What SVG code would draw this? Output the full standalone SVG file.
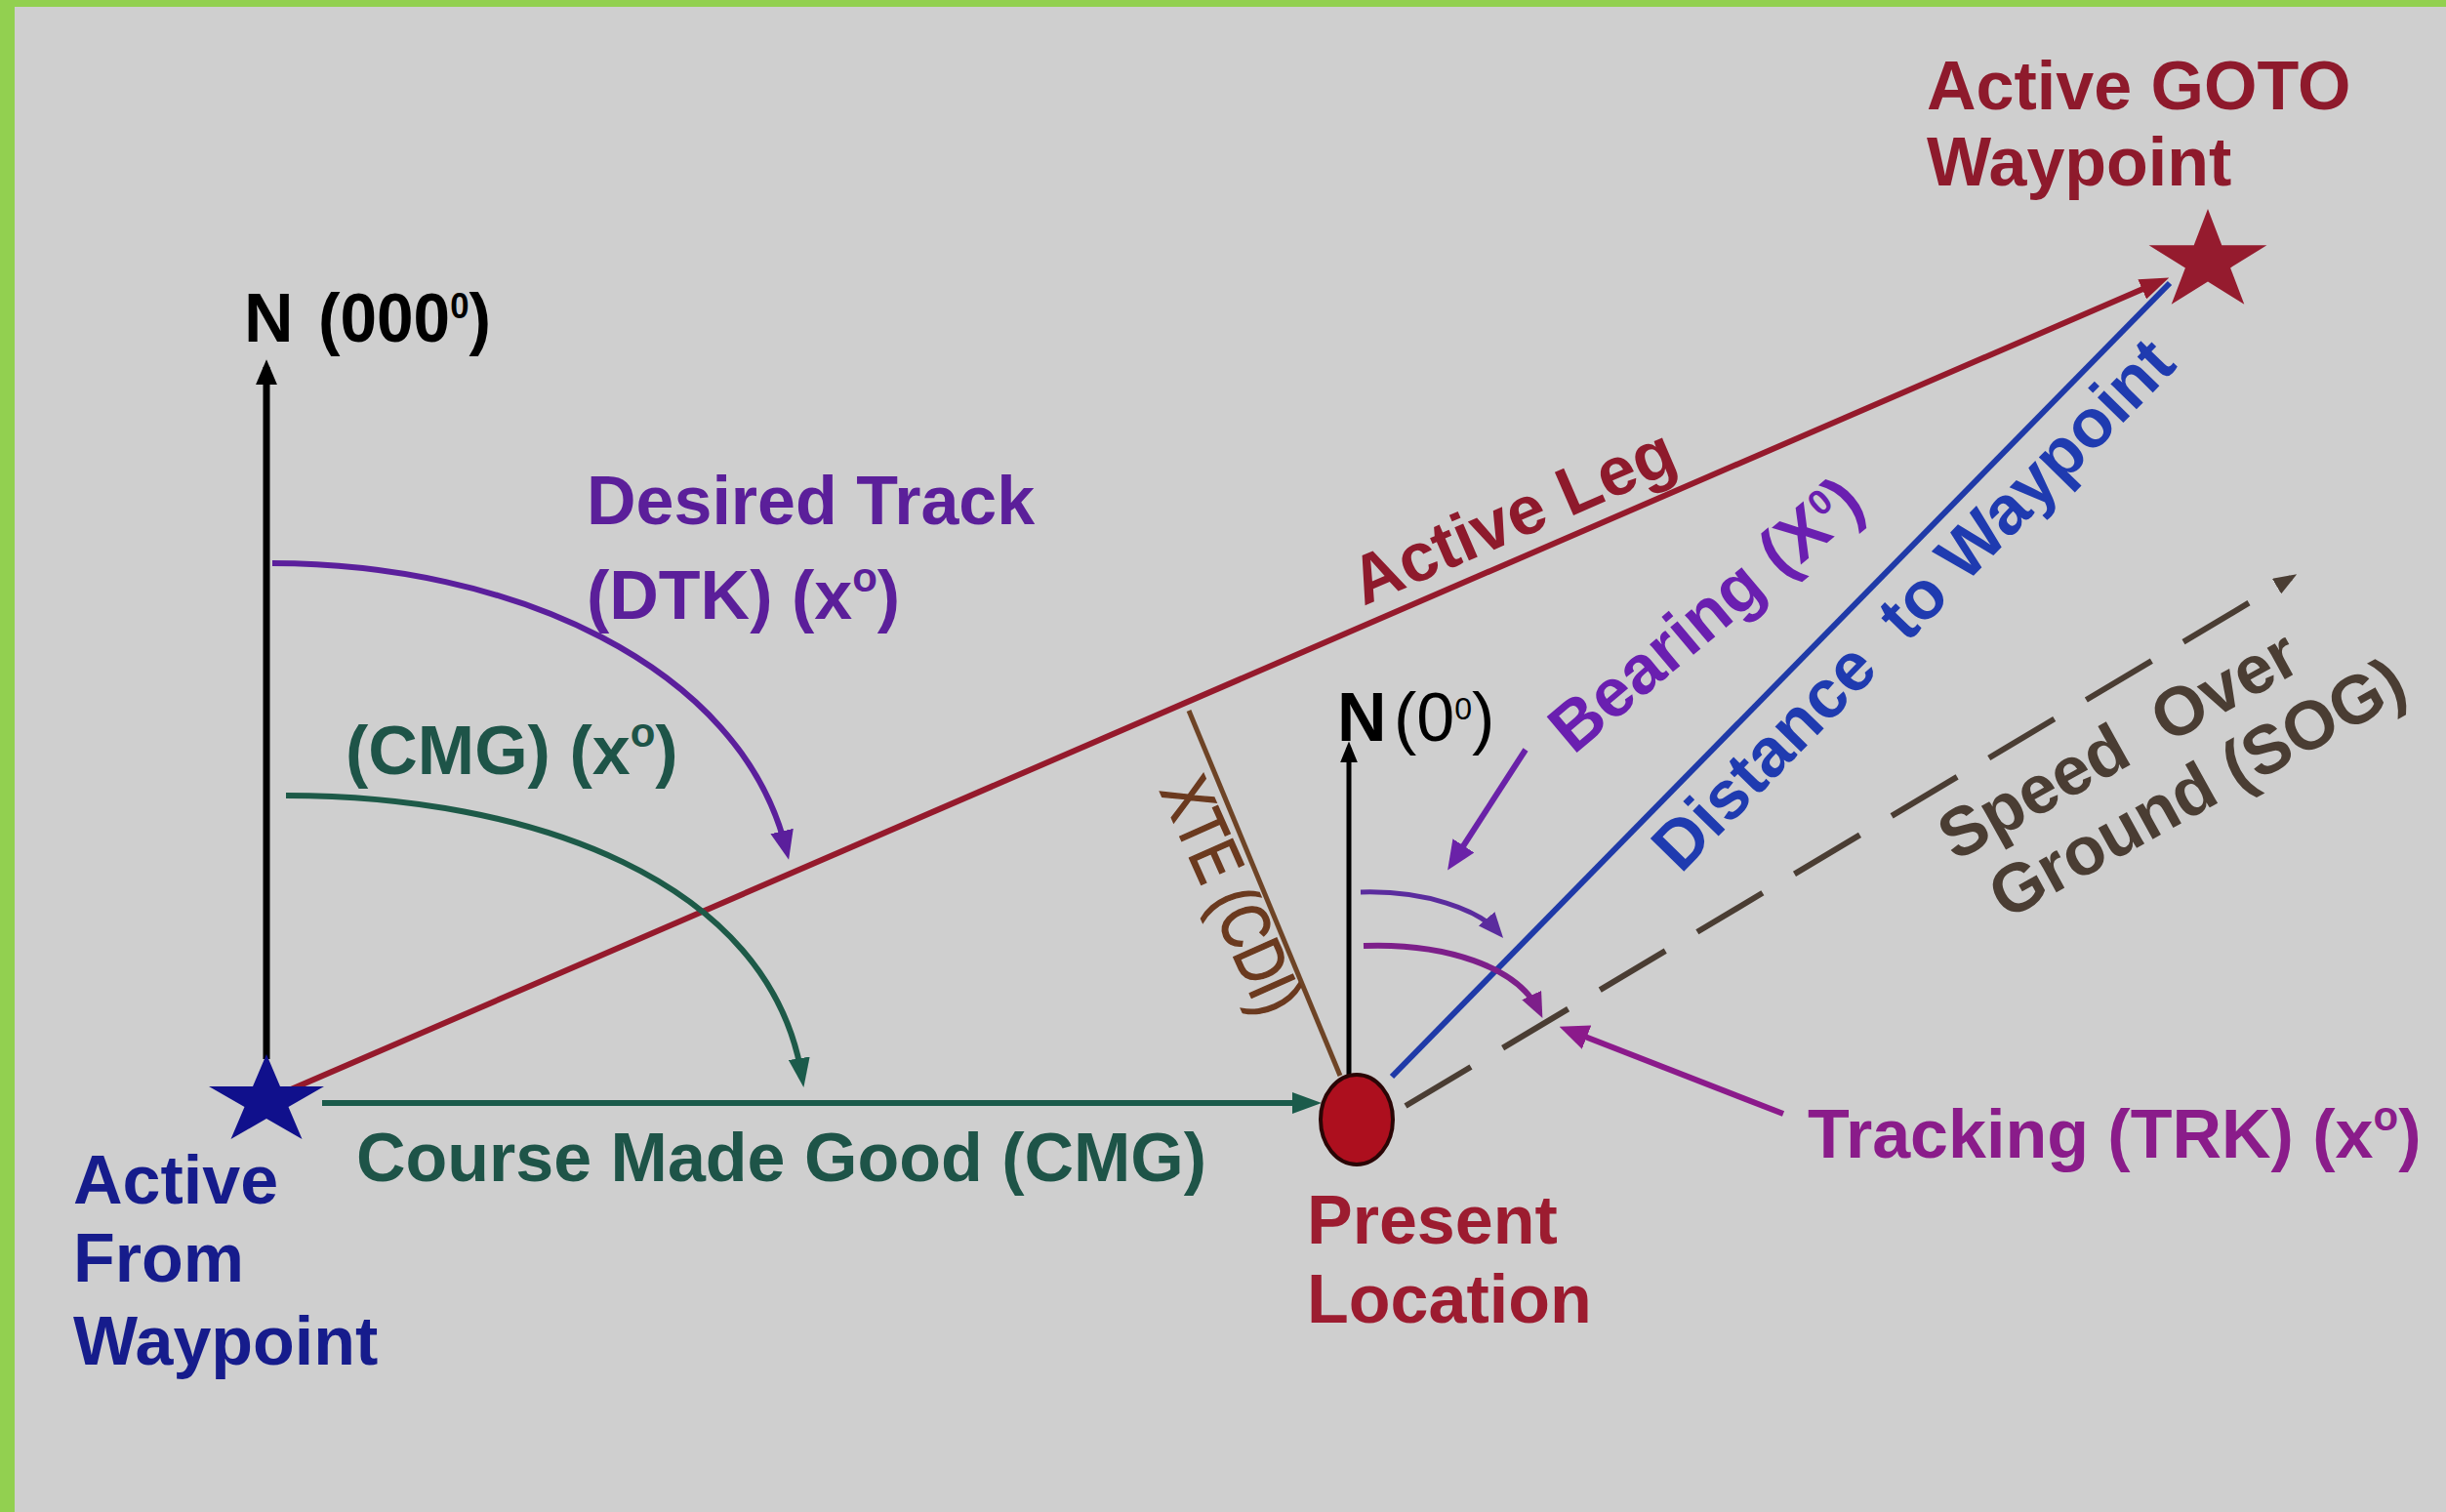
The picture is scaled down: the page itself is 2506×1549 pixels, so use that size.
<svg xmlns="http://www.w3.org/2000/svg" width="2506" height="1549" viewBox="0 0 2506 1549">
<style>
text{font-family:"Liberation Sans",Arial,Helvetica,sans-serif;font-weight:bold;font-size:70px}
.ln{fill:none;stroke-linecap:butt}
.reg{font-weight:normal}
</style>
<defs>
<marker id="mBlack" markerUnits="userSpaceOnUse" viewBox="0 0 10 10" refX="7" refY="5" markerWidth="26" markerHeight="22" orient="auto" preserveAspectRatio="none"><path d="M0,0 L10,5 L0,10 z" fill="#000"/></marker>
<marker id="mBlackS" markerUnits="userSpaceOnUse" viewBox="0 0 10 10" refX="7" refY="5" markerWidth="22" markerHeight="18" orient="auto" preserveAspectRatio="none"><path d="M0,0 L10,5 L0,10 z" fill="#000"/></marker>
<marker id="mRed" markerUnits="userSpaceOnUse" viewBox="0 0 10 10" refX="7" refY="5" markerWidth="30" markerHeight="22" orient="auto" preserveAspectRatio="none"><path d="M0,0 L10,5 L0,10 z" fill="#951a2c"/></marker>
<marker id="mGreen" markerUnits="userSpaceOnUse" viewBox="0 0 10 10" refX="7" refY="5" markerWidth="30" markerHeight="22" orient="auto" preserveAspectRatio="none"><path d="M0,0 L10,5 L0,10 z" fill="#1b5b4b"/></marker>
<marker id="mDtk" markerUnits="userSpaceOnUse" viewBox="0 0 10 10" refX="7" refY="5" markerWidth="30" markerHeight="24" orient="auto" preserveAspectRatio="none"><path d="M0,0 L10,5 L0,10 z" fill="#5b1f9c"/></marker>
<marker id="mBear" markerUnits="userSpaceOnUse" viewBox="0 0 10 10" refX="7" refY="5" markerWidth="30" markerHeight="26" orient="auto" preserveAspectRatio="none"><path d="M0,0 L10,5 L0,10 z" fill="#6a22a8"/></marker>
<marker id="mArc1" markerUnits="userSpaceOnUse" viewBox="0 0 10 10" refX="7" refY="5" markerWidth="26" markerHeight="22" orient="auto" preserveAspectRatio="none"><path d="M0,0 L10,5 L0,10 z" fill="#5b2c9e"/></marker>
<marker id="mArc2" markerUnits="userSpaceOnUse" viewBox="0 0 10 10" refX="7" refY="5" markerWidth="26" markerHeight="22" orient="auto" preserveAspectRatio="none"><path d="M0,0 L10,5 L0,10 z" fill="#7d1f8a"/></marker>
<marker id="mTrk" markerUnits="userSpaceOnUse" viewBox="0 0 10 10" refX="7" refY="5" markerWidth="30" markerHeight="26" orient="auto" preserveAspectRatio="none"><path d="M0,0 L10,5 L0,10 z" fill="#8b1a8b"/></marker>
<marker id="mSog" markerUnits="userSpaceOnUse" viewBox="0 0 10 10" refX="7" refY="5" markerWidth="24" markerHeight="18" orient="auto" preserveAspectRatio="none"><path d="M0,0 L10,5 L0,10 z" fill="#4a3d33"/></marker>
</defs>

<rect x="0" y="0" width="2506" height="1549" fill="#cfcfcf"/>
<rect x="0" y="0" width="2506" height="7" fill="#92d050"/>
<rect x="0" y="0" width="15" height="1549" fill="#92d050"/>

<g id="connectors">
  <line id="north-from" class="ln" x1="273" y1="1085" x2="273" y2="376" stroke="#000" stroke-width="7" marker-end="url(#mBlack)"/>
  <line id="active-leg" class="ln" x1="275" y1="1126" x2="2214" y2="288" stroke="#951a2c" stroke-width="6" marker-end="url(#mRed)"/>
  <line id="cmg-line" class="ln" x1="330" y1="1130" x2="1345" y2="1130" stroke="#1b5b4b" stroke-width="6" marker-end="url(#mGreen)"/>
  <path id="dtk-arc" class="ln" d="M279,577 C520,577 760,680 806,872" stroke="#5b1f9c" stroke-width="6" marker-end="url(#mDtk)"/>
  <path id="cmg-arc" class="ln" d="M293,815 C540,815 790,900 822,1105" stroke="#1d5a48" stroke-width="6" marker-end="url(#mGreen)"/>
  <line id="xte" class="ln" x1="1218" y1="728" x2="1373" y2="1102" stroke="#6e4426" stroke-width="5"/>
  <line id="north-present" class="ln" x1="1382" y1="1102" x2="1382" y2="766" stroke="#000" stroke-width="5" marker-end="url(#mBlackS)"/>
  <line id="distance" class="ln" x1="1426" y1="1103" x2="2223" y2="290" stroke="#1f3aa8" stroke-width="6"/>
  <line id="sog" class="ln" x1="1440" y1="1133" x2="2347" y2="592" stroke="#4a3d33" stroke-width="6" stroke-dasharray="78 38" marker-end="url(#mSog)"/>
  <line id="bearing-ptr" class="ln" x1="1563" y1="768" x2="1488" y2="884" stroke="#6a22a8" stroke-width="6" marker-end="url(#mBear)"/>
  <path id="bearing-arc" class="ln" d="M1394,914 C1460,912 1515,932 1535,955" stroke="#5b2c9e" stroke-width="5" marker-end="url(#mArc1)"/>
  <path id="trk-arc" class="ln" d="M1397,969 C1480,966 1555,990 1577,1036" stroke="#7d1f8a" stroke-width="6" marker-end="url(#mArc2)"/>
  <line id="trk-ptr" class="ln" x1="1827" y1="1141" x2="1606" y2="1055" stroke="#8b1a8b" stroke-width="6" marker-end="url(#mTrk)"/>
</g>

<g id="node-active-from">
  <polygon points="273,1080 287,1113 332,1113 295.5,1134 309.5,1167 273,1146 236.5,1167 250.5,1134 214,1113 259,1113" fill="#10108c"/>
  <text x="75" y="1233" fill="#161c8c">Active</text>
  <text x="75" y="1313" fill="#161c8c">From</text>
  <text x="75" y="1398" fill="#161c8c">Waypoint</text>
</g>

<g id="node-present">
  <ellipse cx="1390" cy="1147" rx="37" ry="46" fill="#ad0f1e" stroke="#2a0505" stroke-width="4"/>
  <text x="1339" y="1274" fill="#9c1c30">Present</text>
  <text x="1339" y="1355" fill="#9c1c30">Location</text>
</g>

<g id="node-goto">
  <polygon points="2262,214 2276.3,251.3 2322.4,251.3 2285.1,274.4 2299.3,311.7 2262,288.6 2224.7,311.7 2238.9,274.4 2201.6,251.3 2247.7,251.3" fill="#951b2e"/>
  <text x="1974" y="112" fill="#8e1a2c">Active GOTO</text>
  <text x="1974" y="190" fill="#8e1a2c">Waypoint</text>
</g>

<g id="label-north-from" fill="#000">
  <text x="250" y="350">N</text>
  <text x="326" y="350" font-size="62" textLength="177" lengthAdjust="spacingAndGlyphs">(000<tspan font-size="36" dy="-24">0</tspan><tspan dy="24">)</tspan></text>
</g>
<g id="label-north-present" fill="#000">
  <text x="1370" y="759" font-size="54">N</text>
  <text x="1428" y="759" font-size="54" class="reg">(0<tspan font-size="32" dy="-22">0</tspan><tspan dy="22">)</tspan></text>
</g>
<g id="label-dtk" fill="#5b1f9a">
  <text x="601" y="537">Desired Track</text>
  <text x="601" y="634">(DTK) (x<tspan font-size="42" dy="-28">o</tspan><tspan dy="28">)</tspan></text>
</g>
<g id="label-cmg" fill="#1e5448">
  <text x="354" y="793">(CMG) (x<tspan font-size="42" dy="-28">o</tspan><tspan dy="28">)</tspan></text>
  <text x="365" y="1210">Course Made Good (CMG)</text>
</g>
<g id="label-trk" fill="#8a1c8a">
  <text x="1852" y="1186">Tracking (TRK) (x<tspan font-size="42" dy="-28">o</tspan><tspan dy="28">)</tspan></text>
</g>
<g id="label-active-leg">
  <text transform="translate(1397,621) rotate(-23.4)" font-size="68" fill="#8e1a2c">Active Leg</text>
</g>
<g id="label-xte">
  <text class="reg" transform="translate(1188,810) rotate(66)" font-size="62" fill="#6b3a1f" stroke="#6b3a1f" stroke-width="1.6" textLength="256" lengthAdjust="spacingAndGlyphs">XTE (CDI)</text>
</g>
<g id="label-bearing">
  <text transform="translate(1612,774) rotate(-40)" font-size="62" fill="#6a1fb0">Bearing (X<tspan font-size="36" dy="-24">0</tspan><tspan dy="24">)</tspan></text>
</g>
<g id="label-distance">
  <text xml:space="preserve" transform="translate(1722,896) rotate(-45.6)" fill="#1f3bb0">Distance  to Waypoint</text>
</g>
<g id="label-sog" fill="#4a3d33">
  <text xml:space="preserve" transform="translate(2003,883) rotate(-29)">Speed  Over</text>
  <text transform="translate(2055,943) rotate(-29)">Ground (SOG)</text>
</g>
</svg>
